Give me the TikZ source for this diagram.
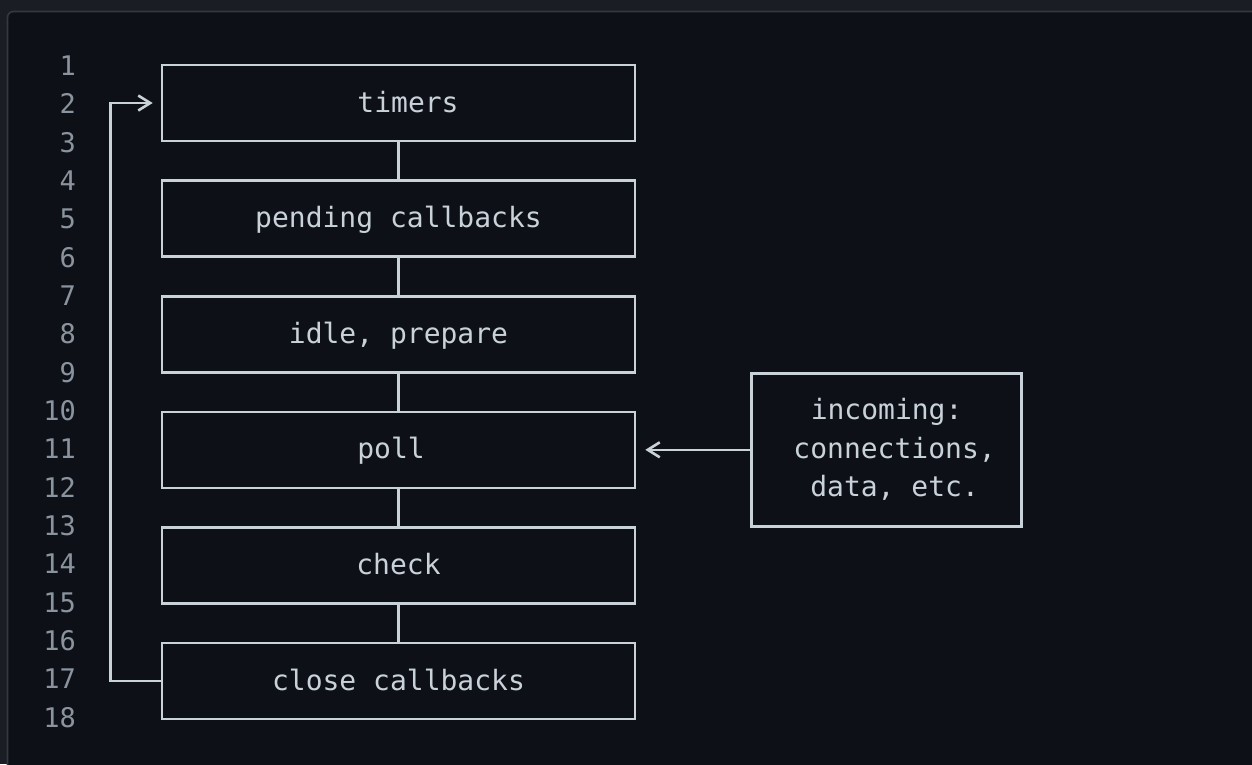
\documentclass[tikz,border=0pt]{standalone}
\usepackage{fontspec}
\setmonofont{DejaVu Sans Mono}
\usetikzlibrary{positioning,arrows.meta}
\definecolor{pagebg}{HTML}{0D1117}
\definecolor{outerbg}{HTML}{1A1E24}
\definecolor{framecol}{HTML}{343940}
\definecolor{ink}{HTML}{C9D1D9}
\definecolor{lineno}{HTML}{8B949E}

\begin{document}
\begin{tikzpicture}[x=1pt, y=1pt, >={Straight Barb[length=12pt,width=15pt]},
  phase/.style={draw=ink, line width=2.6pt, text=ink, inner sep=0pt,
    font=\ttfamily\fontsize{28}{38.5}\selectfont,
    minimum width=473pt, minimum height=76pt, text height=22pt, text depth=4pt},
  lnum/.style={text=lineno, inner sep=0pt, anchor=east,
    font=\ttfamily\fontsize{27}{32}\selectfont},
  wire/.style={draw=ink, line width=2.6pt},
  node distance=37pt]

% background and frame
\useasboundingbox (0,0) rectangle (1252,-764);
\begin{scope}
\clip (0,0) rectangle (1252,-764);
\fill[outerbg] (0,0) rectangle (1252,-764);
\filldraw[fill=pagebg, draw=framecol, line width=1.6pt, rounded corners=6pt]
  (7.5,-11.5) rectangle (1300,-820);
\end{scope}

% line numbers
\foreach \i in {1,...,18}
  \node[lnum] (ln\i) at (76,{-65.5-(\i-1)*38.35}) {\i};

% phases
\path
(398.5,-103) node[phase] (timers) {\hspace*{19pt}timers};
\node[phase, below=of timers]  (pending) {pending callbacks};
\node[phase, below=of pending] (idle)    {idle, prepare};
\node[phase, below=of idle]    (poll)    {poll\hspace*{15pt}};
\node[phase, below=of poll]    (check)   {check};
\node[phase, below=of check]   (close)   {close callbacks};

% incoming
\node[phase, right=114pt of poll, minimum width=270pt, minimum height=153pt,
  text height=, text depth=, align=center] (incoming)
  {incoming:\\\hspace*{16pt}connections,\\\hspace*{16pt}data, etc.};

% connectors
\foreach \a/\b in {timers/pending, pending/idle, idle/poll, poll/check, check/close}
  \draw[wire] (\a) -- (\b);
\draw[wire, ->, shorten >=9pt] (incoming.west) -- (poll.east);
\draw[wire, ->, shorten >=8pt] (close.west) -- ++(-50,0) |- (timers.west);

\end{tikzpicture}
\end{document}
